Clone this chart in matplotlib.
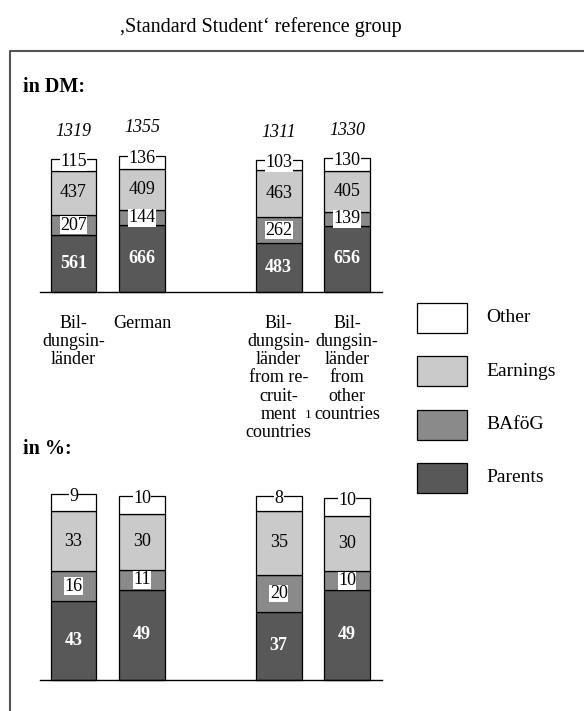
import matplotlib
matplotlib.use("Agg")
import matplotlib.pyplot as plt
from matplotlib.patches import Rectangle
from matplotlib.lines import Line2D

plt.rcParams['font.family'] = ['Liberation Serif', 'DejaVu Serif']

# ---- data ----
groups = ["Bil-\ndungsin-\nländer", "German",
          "Bil-\ndungsin-\nländer\nfrom re-\ncruit-\nment\ncountries",
          "Bil-\ndungsin-\nländer\nfrom\nother\ncountries"]
positions = [0, 1, 3, 4]
series = ["Parents", "BAföG", "Earnings", "Other"]
colors = ["#585858", "#8a8a8a", "#cacaca", "#ffffff"]

dm_parents = [561, 666, 483, 656]
dm_bafoeg = [207, 144, 262, 139]
dm_earnings = [437, 409, 463, 405]
dm_other = [115, 136, 103, 130]
dm_totals = [1319, 1355, 1311, 1330]

pct_parents = [43, 49, 37, 49]
pct_bafoeg = [16, 11, 20, 10]
pct_earnings = [33, 30, 35, 30]
pct_other = [9, 10, 8, 10]

W, H = 584, 711
fig = plt.figure(figsize=(W / 100, H / 100), dpi=100)

NUM_FS = 13


def px_axes(left, top, width, height):
    return fig.add_axes([left / W, (H - top - height) / H, width / W, height / H])


def stacked(ax, layers, ymax, fs=NUM_FS):
    bottoms = [0] * len(positions)
    for li, (vals, col) in enumerate(zip(layers, colors)):
        ax.bar(positions, vals, bottom=bottoms, width=0.67, color=col,
               edgecolor="black", linewidth=0.9, zorder=2, clip_on=False)
        for x, v, b in zip(positions, vals, bottoms):
            mid = b + v / 2
            if li == 0:
                ax.text(x, mid, str(v), ha="center", va="center", color="white",
                        fontweight="bold", fontsize=fs, zorder=4)
            elif li == 1:
                ax.text(x, mid, str(v), ha="center", va="center", color="black",
                        fontsize=fs, zorder=4,
                        bbox=dict(facecolor="white", edgecolor="none", pad=0.3))
            elif li == 2:
                ax.text(x, mid, str(v), ha="center", va="center", color="black",
                        fontsize=fs, zorder=4)
            else:
                ax.annotate(str(v), xy=(x, b + v), xytext=(0, -2),
                            textcoords="offset points", ha="center", va="center",
                            fontsize=fs, zorder=4, annotation_clip=False,
                            bbox=dict(facecolor="white", edgecolor="none", pad=0.2))
        bottoms = [b + v for b, v in zip(bottoms, vals)]
    ax.set_xlim(-0.49, 4.51)
    ax.set_ylim(0, ymax)
    for s in ["top", "right", "left"]:
        ax.spines[s].set_visible(False)
    ax.spines["bottom"].set_linewidth(1.0)
    ax.set_xticks([])
    ax.set_yticks([])
    ax.patch.set_alpha(0)
    return bottoms


# amounts in DM
ax1 = px_axes(40, 292 - 141, 342, 141)
stacked(ax1, [dm_parents, dm_bafoeg, dm_earnings, dm_other], 1400)
for x, t in zip(positions, dm_totals):
    ax1.annotate(str(t), xy=(x, t), xytext=(0, 20), textcoords="offset points",
                 ha="center", va="center", fontstyle="italic", fontsize=NUM_FS,
                 annotation_clip=False)
for x, g in zip(positions, groups):
    ax1.annotate(g, xy=(x, 0), xycoords=("data", "axes fraction"),
                 xytext=(0, -16.5), textcoords="offset points", ha="center",
                 va="top", fontsize=13, linespacing=1.09, annotation_clip=False)
# footnote marker after "recruitment countries"
ax1.annotate("1", xy=(3.43, 0), xycoords=("data", "axes fraction"),
             xytext=(0, -84), textcoords="offset points", ha="center", va="top",
             fontsize=9.5, annotation_clip=False)

# shares in percent
ax2 = px_axes(40, 680 - 184, 342, 184)
stacked(ax2, [pct_parents, pct_bafoeg, pct_earnings, pct_other], 100)

# section headings
fig.text(23 / W, 1 - 87 / H, "in DM:", fontsize=14.5, fontweight="bold",
         va="center", ha="left")
fig.text(23 / W, 1 - 449 / H, "in %:", fontsize=14.5, fontweight="bold",
         va="center", ha="left")

# title above the frame
fig.text(120 / W, 1 - 27 / H, ",Standard Student\u2018 reference group",
         fontsize=14.5, ha="left", va="center")

# frame
fig.add_artist(Line2D([9.5 / W, 9.5 / W, 1.0], [0.0, 1 - 51 / H, 1 - 51 / H],
                      transform=fig.transFigure, color="#555555", linewidth=1.5))

# legend
for i, name in enumerate(reversed(series)):
    col = colors[series.index(name)]
    yc = 318 + i * 53.3
    fig.add_artist(Rectangle((417 / W, 1 - (yc + 15) / H), 50 / W, 30 / H,
                             transform=fig.transFigure, facecolor=col,
                             edgecolor="black", linewidth=0.9))
    fig.text(486 / W, 1 - yc / H, name, fontsize=14, ha="left", va="center")

fig.savefig("out.png", dpi=100)
